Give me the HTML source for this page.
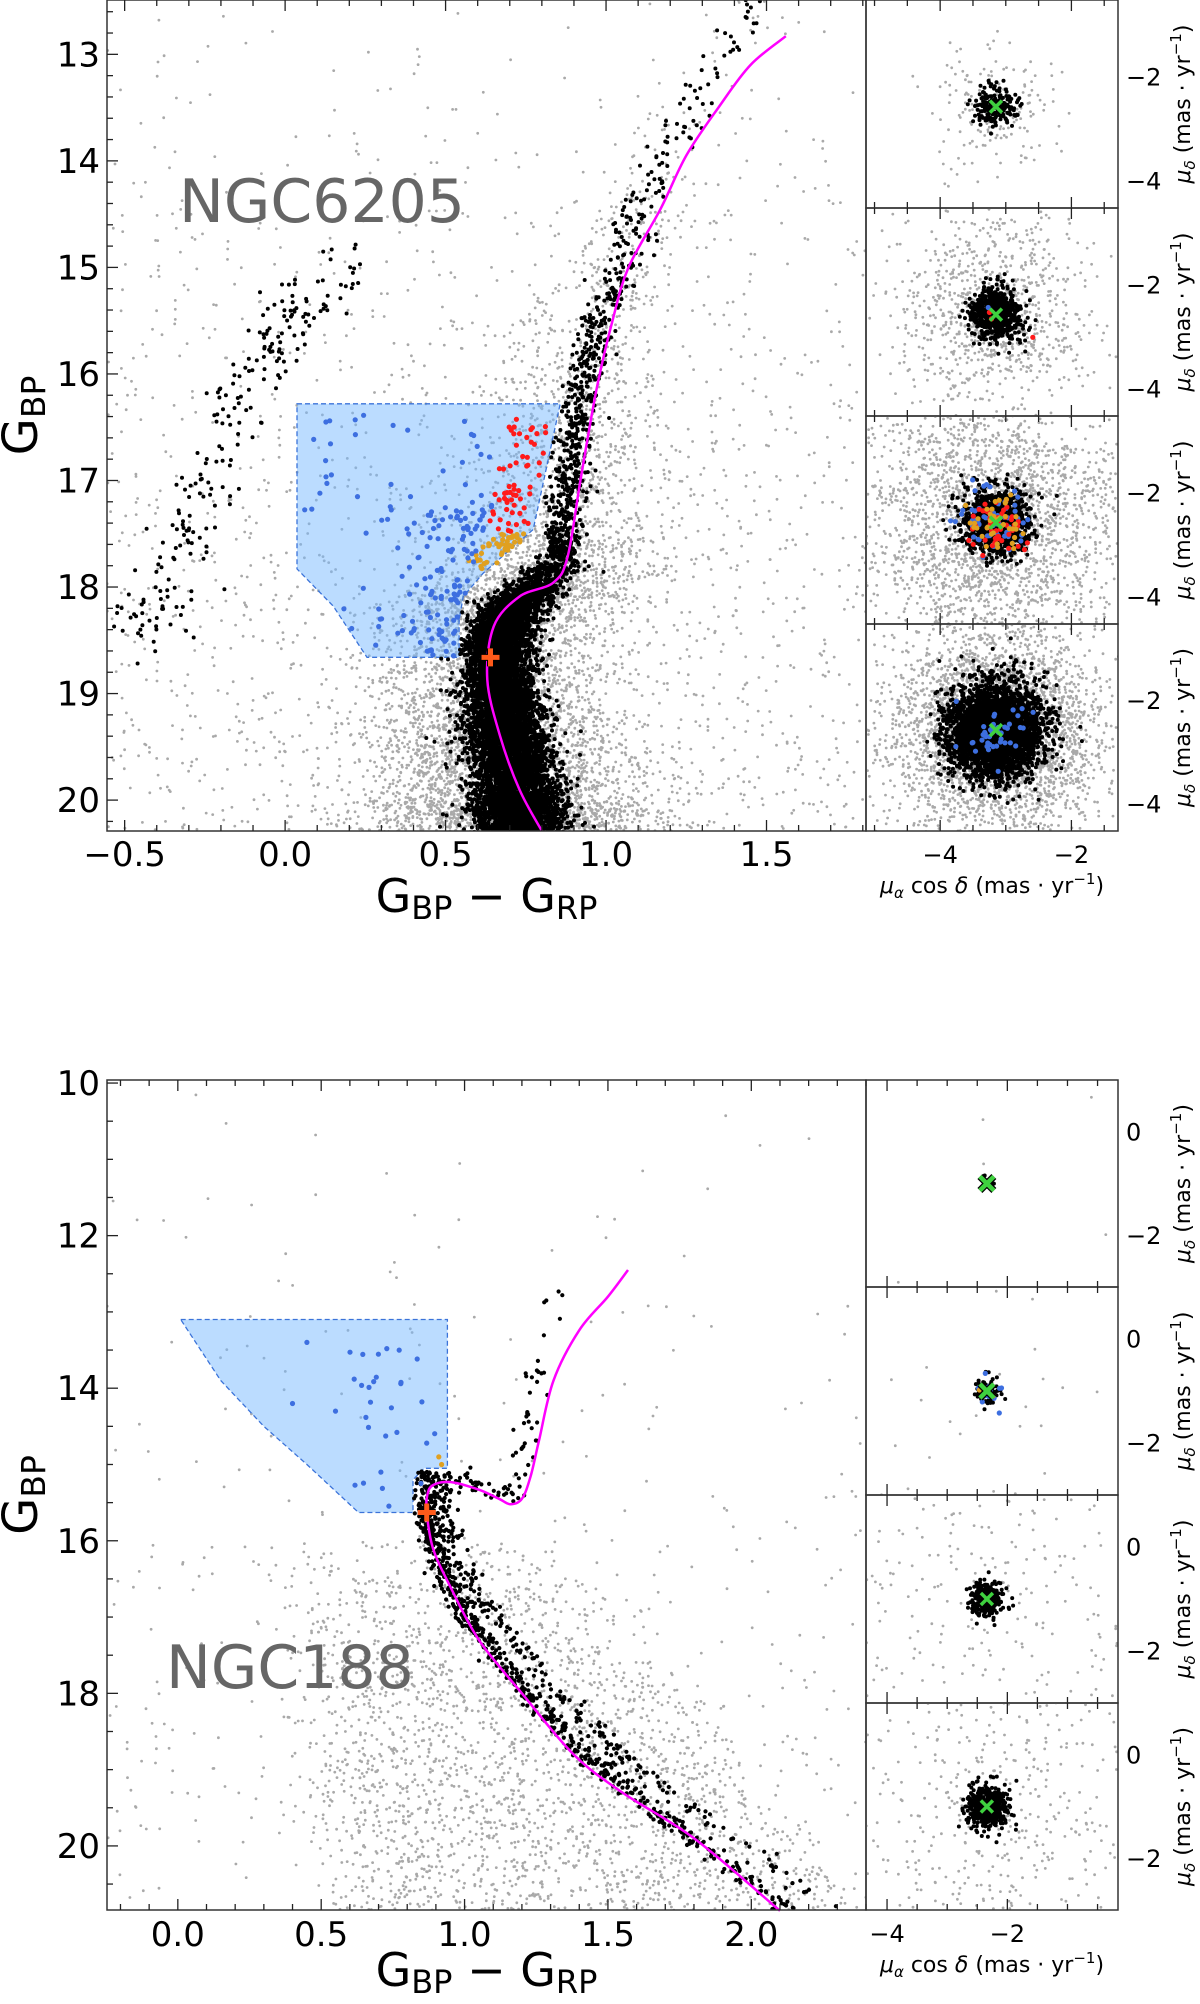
<!DOCTYPE html>
<html><head><meta charset="utf-8"><style>
html,body{margin:0;padding:0;background:#fff;overflow:hidden;width:1200px;height:2004px;}
svg{display:block;font-family:"DejaVu Sans","Liberation Sans",sans-serif;}
</style></head><body>
<svg id="fig" width="1200" height="2004" viewBox="0 0 1200 2004" xmlns="http://www.w3.org/2000/svg">
<defs>
<clipPath id="c1"><rect x="107" y="0" width="759" height="831"/></clipPath>
<clipPath id="c2"><rect x="107" y="1080" width="759" height="830"/></clipPath>
</defs>
<g id="root"></g>
</svg>
<script>
// ---------- data ----------
const iso1Color=[1.56,1.45,1.35,1.25,1.17,1.07,1.02,0.97,0.92,0.88,0.835,0.73,0.65,0.63,0.67,0.73,0.80];
const iso1Mag  =[12.83,13.1,13.5,13.95,14.45,15.0,15.5,16.15,17.0,17.72,17.96,18.09,18.37,18.87,19.4,19.9,20.29];
const ridge1Mag  =[12.5,13.0,13.5,14.0,14.5,15.0,15.5,16.0,16.5,17.0,17.5,17.8,18.0,18.2,18.5,19.0,19.5,20.0,20.3];
const ridge1Color=[1.47,1.37,1.27,1.17,1.10,1.05,0.98,0.93,0.90,0.88,0.865,0.85,0.78,0.70,0.665,0.67,0.70,0.72,0.74];
const ridge1Wt   =[0.7,0.7,1,1.5,2,3,4,5,6,6,7,12,25,50,70,80,80,60];
const hb1Color=[-0.48,-0.42,-0.35,-0.30,-0.27,-0.22,-0.19,-0.15,-0.10,-0.03,0.05,0.15,0.22];
const hb1Mag  =[18.5,18.2,18.0,17.6,17.3,17.0,16.6,16.3,16.0,15.6,15.35,15.15,15.0];
const poly1Color=[0.037,0.857,0.773,0.617,0.555,0.542,0.542,0.255,0.15,0.037];
const poly1Mag  =[16.28,16.28,17.46,17.87,18.09,18.31,18.66,18.66,18.18,17.83];
const to1=[0.64,18.66];
const iso2Color=[2.10,1.80,1.55,1.38,1.20,1.05,0.95,0.89,0.868,0.87,0.89,0.95,1.05,1.12,1.16,1.20,1.23,1.26,1.31,1.40,1.50,1.57];
const iso2Mag  =[20.85,19.9,19.3,18.8,18.0,17.3,16.6,16.1,15.63,15.4,15.27,15.23,15.33,15.45,15.52,15.45,15.16,14.68,13.9,13.24,12.8,12.45];
const ridge2Mag  =[15.1,15.6,16.0,16.5,17.0,17.5,18.0,18.5,19.0,19.5,20.0,20.5,20.85];
const ridge2Color=[0.87,0.87,0.89,0.94,1.01,1.11,1.22,1.34,1.48,1.65,1.83,2.01,2.14];
const ridge2Wt   =[8,7,6,6,5,5,5,5,4,4,3,2];
const rgb2Color=[0.92,1.00,1.08,1.14,1.18,1.20,1.21,1.24,1.28,1.33];
const rgb2Mag  =[15.15,15.2,15.3,15.4,15.35,15.0,14.6,14.0,13.4,12.7];
const poly2Color=[0.01,0.94,0.94,0.86,0.82,0.82,0.63,0.45,0.30,0.15,0.01];
const poly2Mag  =[13.1,13.1,15.05,15.05,15.2,15.63,15.63,15.0,14.5,13.9,13.1];
const to2=[0.868,15.63];
const pm1Center=[-3.15,-2.57];
const pm1BlackN=[200,700,1000,3500];
const pm1BlackSd=[0.2,0.24,0.32,0.44];
const pm1GreyN=[180,900,2500,3500];
const pm1GreySd=[0.55,0.95,1.3,1.0];
const pm2Center=[-2.34,-1.0];
const pm2BlackN=[5,80,250,500];
const pm2BlackSd=[0.08,0.12,0.16,0.2];
const pm2GreyN=[6,30,300,600];
const pm2GreySd=[2,1.5,1.6,1.8];

// ---------- helpers ----------
const NS='http://www.w3.org/2000/svg';
const root=document.getElementById('root');
let s=987654321;
function rnd(){s|=0;s=s+0x6D2B79F5|0;let t=Math.imul(s^s>>>15,1|s);t=t+Math.imul(t^t>>>7,61|t)^t;return((t^t>>>14)>>>0)/4294967296;}
function gau(){let u=rnd()||1e-9,v=rnd();return Math.sqrt(-2*Math.log(u))*Math.cos(2*Math.PI*v);}
function el(tag,attrs,parent){const e=document.createElementNS(NS,tag);for(const k in attrs)e.setAttribute(k,attrs[k]);(parent||root).appendChild(e);return e;}
function lin(d0,d1,r0,r1){return v=>r0+(v-d0)/(d1-d0)*(r1-r0);}

function dots(g,xs,ys,sx,sy,r,fill,name,box){
  for(let i=0;i<xs.length;i++){
    const X=sx(xs[i]),Y=sy(ys[i]);
    if(box&&(X<box[0]-1||X>box[2]+1||Y<box[1]-1||Y>box[3]+1)) continue;
    const c=document.createElementNS(NS,'circle');
    c.setAttribute('cx',X.toFixed(1));c.setAttribute('cy',Y.toFixed(1));
    c.setAttribute('r',r);c.setAttribute('fill',fill);
    
    
    g.appendChild(c);
  }
}
function sampleRidge(C,M,W,n,sc,sm,offFn){
  const xs=[],ys=[];let tot=W.reduce((a,b)=>a+b,0);
  for(let k=0;k<n;k++){
    let r=rnd()*tot,i=0;while(i<W.length-1&&r>W[i]){r-=W[i];i++;}
    const t=rnd();
    const c=C[i]+(C[i+1]-C[i])*t, m=M[i]+(M[i+1]-M[i])*t;
    let sig=typeof sc==='function'?sc(m):sc;
    xs.push(c+gau()*sig+(offFn?offFn(m):0)); ys.push(m+gau()*sm);
  }
  return [xs,ys];
}
function ticksAxis(g,x0,y0,w,h,sx,sy,xMaj,xMin,yMaj,yMin,xr,yr,sides){
  const st={stroke:'#222','stroke-width':1.3};
  for(let v=Math.ceil(xr[0]/xMin-1e-6)*xMin;v<=xr[1]+1e-9;v+=xMin){
    const isM=Math.abs(v/xMaj-Math.round(v/xMaj))<1e-6;const L=isM?11:6;const X=sx(v);
    if(sides.b) el('line',Object.assign({x1:X,x2:X,y1:y0+h,y2:y0+h-L,},st),g);
    if(sides.t) el('line',Object.assign({x1:X,x2:X,y1:y0,y2:y0+L,},st),g);
  }
  for(let v=Math.ceil(yr[0]/yMin-1e-6)*yMin;v<=yr[1]+1e-9;v+=yMin){
    const isM=Math.abs(v/yMaj-Math.round(v/yMaj))<1e-6;const L=isM?11:6;const Y=sy(v);
    if(sides.l) el('line',Object.assign({x1:x0,x2:x0+L,y1:Y,y2:Y,},st),g);
    if(sides.r) el('line',Object.assign({x1:x0+w,x2:x0+w-L,y1:Y,y2:Y,},st),g);
  }
}
function txt(g,x,y,str,size,anchor,name,extra){
  const t=el('text',Object.assign({x:x,y:y,'font-size':size,'text-anchor':anchor||'middle',fill:'#000',},extra||{}),g);
  t.textContent=str;return t;
}
function fmt(v,d){const s=Math.abs(v).toFixed(d);return (v<-1e-9?'\u2212':'')+s;}
function cross(g,x,y,col,size,sw,outline){
  const d=`M${x-size},${y-size}L${x+size},${y+size}M${x-size},${y+size}L${x+size},${y-size}`;
  if(outline) el('path',{d:d,stroke:'#000','stroke-width':sw+2.5,fill:'none',},g);
  el('path',{d:d,stroke:col,'stroke-width':sw,fill:'none',},g);
}
function plus(g,x,y){
  const d=`M${x-9},${y}L${x+9},${y}M${x},${y-9}L${x},${y+9}`;
  el('path',{d:d,stroke:'#000','stroke-width':7,fill:'none',},g);
  el('path',{d:d,stroke:'#ff5a1a','stroke-width':5,fill:'none',},g);
}
function polyPath(C,M,sx,sy){return C.map((c,i)=>(i?'L':'M')+sx(c).toFixed(1)+','+sy(M[i]).toFixed(1)).join('')+'Z';}
function smoothPath(C,M,sx,sy){
  const P=C.map((c,i)=>[sx(c),sy(M[i])]);
  let d='M'+P[0][0].toFixed(1)+','+P[0][1].toFixed(1);
  for(let i=0;i<P.length-1;i++){
    const p0=P[Math.max(0,i-1)],p1=P[i],p2=P[i+1],p3=P[Math.min(P.length-1,i+2)];
    const c1=[p1[0]+(p2[0]-p0[0])/6,p1[1]+(p2[1]-p0[1])/6],c2=[p2[0]-(p3[0]-p1[0])/6,p2[1]-(p3[1]-p1[1])/6];
    d+=`C${c1[0].toFixed(1)},${c1[1].toFixed(1)} ${c2[0].toFixed(1)},${c2[1].toFixed(1)} ${p2[0].toFixed(1)},${p2[1].toFixed(1)}`;
  }
  return d;
}
function inPoly(c,m,C,M){let ins=false;for(let i=0,j=C.length-1;i<C.length;j=i++){if(((M[i]>m)!=(M[j]>m))&&(c<(C[j]-C[i])*(m-M[i])/(M[j]-M[i])+C[i]))ins=!ins;}return ins;}

// ---------- PM panel ----------
function pmPanel(parent,x0,y0,w,h,xr,yr,center,bn,bsd,gn,gsd,yTicks,showX,extra,idx,bigX){
  const g=el('g',{},parent);
  const cid='pmclip'+x0+'_'+y0;
  const cp=el('clipPath',{id:cid},g);el('rect',{x:x0,y:y0,width:w,height:h},cp);
  const sx=lin(xr[0],xr[1],x0,x0+w), sy=lin(yr[1],yr[0],y0,y0+h);
  const box=[x0,y0,x0+w,y0+h];
  const kx=(h/(yr[1]-yr[0]))/(w/(xr[1]-xr[0]));
  const pg=el('g',{'clip-path':`url(#${cid})`,},g);
  const gx=[],gy=[];for(let i=0;i<gn;i++){gx.push(center[0]+gau()*gsd*kx);gy.push(center[1]+gau()*gsd);}
  dots(pg,gx,gy,sx,sy,1.4,'#a9a9a9','field-star',box);
  const bx=[],by=[];for(let i=0;i<bn;i++){bx.push(center[0]+gau()*bsd*kx);by.push(center[1]+gau()*bsd);}
  dots(pg,bx,by,sx,sy,2,'#000','member-star',box);
  if(extra){extra.forEach(e=>{const ex=[],ey=[];for(let i=0;i<e.n;i++){ex.push(center[0]+gau()*e.sd*kx);ey.push(center[1]+gau()*e.sd);}dots(pg,ex,ey,sx,sy,2.6,e.col,e.name,box);});}
  cross(g,sx(center[0]),sy(center[1]),'#3fd13f',bigX?7:6,bigX?4.5:3.5,bigX);
  el('rect',{x:x0,y:y0,width:w,height:h,fill:'none',stroke:'#333','stroke-width':1.5,},g);
  ticksAxis(g,x0,y0,w,h,sx,sy,2,0.5,2,0.5,xr,[yr[1],yr[0]],{b:1,t:1,l:1,r:1});
  yTicks.forEach(v=>{txt(g,x0+w+8,sy(v)+8.5,fmt(v,0),24,'start','pm-y-tick-label');});
  const lab=txt(g,0,0,'',22,'middle','pm-y-axis-title',{transform:`translate(${x0+w+72},${y0+h/2}) rotate(-90)`});
  lab.innerHTML='<tspan font-style="italic">μ</tspan><tspan font-size="15" dy="5" font-style="italic">δ</tspan><tspan dy="-5"> (mas · yr</tspan><tspan font-size="15" dy="-9">−1</tspan><tspan dy="9">)</tspan>';
  if(showX){
    [-4,-2].forEach(v=>txt(g,sx(v),y0+h+32,fmt(v,0),24,'middle','pm-x-tick-label'));
    const xl=txt(g,x0+w/2,y0+h+62,'',22,'middle','pm-x-axis-title');
    xl.innerHTML='<tspan font-style="italic">μ</tspan><tspan font-size="15" dy="5" font-style="italic">α</tspan><tspan dy="-5"> cos </tspan><tspan font-style="italic">δ</tspan><tspan> (mas · yr</tspan><tspan font-size="15" dy="-9">−1</tspan><tspan dy="9">)</tspan>';
  }
}

// ---------- top CMD (NGC6205) ----------
(function(){
  const x0=107,y0=0,w=759,h=831,xr=[-0.555,1.81],mr=[12.49,20.29];
  const box=[x0,y0,x0+w,y0+h];
  const g=el('g',{});
  const sx=lin(xr[0],xr[1],x0,x0+w), sy=lin(mr[0],mr[1],y0,y0+h);
  const pg=el('g',{'clip-path':'url(#c1)',},g);
  let [gx,gy]=sampleRidge(ridge1Color,ridge1Mag,[0.3,0.3,0.5,1,2,3,4,6,7,8,9,10,12,16,22,28,34,38],6500,m=>0.09+0.02*(m-14),0.05,m=>-0.02);
  const ux=[],uy=[];for(let i=0;i<1600;i++){const m=mr[0]+(mr[1]-mr[0])*Math.pow(rnd(),0.55);ux.push(xr[0]+(xr[1]-xr[0])*rnd());uy.push(m);}
  dots(pg,gx.concat(ux),gy.concat(uy),sx,sy,1.4,'#a9a9a9','field-star',box);
  el('path',{d:polyPath(poly1Color,poly1Mag,sx,sy),fill:'rgba(120,185,255,0.5)',stroke:'#3b73d9','stroke-width':1.3,'stroke-dasharray':'5,3',},g);
  const pg2=el('g',{'clip-path':'url(#c1)',},g);
  let [bx,by]=sampleRidge(ridge1Color,ridge1Mag,ridge1Wt,9000,m=>m<15?0.04:(m<17.8?0.028:0.045+0.012*(m-18)),0.04);
  const keepX=[],keepY=[];for(let i=0;i<bx.length;i++){if(!inPoly(bx[i],by[i],poly1Color,poly1Mag)){keepX.push(bx[i]);keepY.push(by[i]);}}
  let [hx,hy]=sampleRidge(hb1Color,hb1Mag,[3,2,2,2,2,2,2,2,2,2,2,2],230,0.05,0.15);
  dots(pg2,keepX.concat(hx),keepY.concat(hy),sx,sy,2,'#000','member-star',box);
  const rx=[],ry=[];for(let i=0;i<60;i++){const m=16.4+rnd()*1.1;const edge=0.86-(m-16.28)*0.07;rx.push(edge-0.02-rnd()*0.13);ry.push(m);}
  dots(pg2,rx,ry,sx,sy,2.6,'#ff1a1a','red-star',box);
  const ox=[],oy=[];for(let i=0;i<45;i++){const m=17.5+rnd()*0.33;ox.push(0.76-(m-17.5)*0.35-rnd()*0.1);oy.push(m);}
  dots(pg2,ox,oy,sx,sy,2.6,'#e0a020','orange-star',box);
  const blx=[],bly=[];for(let i=0;i<130;i++){const m=17.2+rnd()*1.45;const edge=m<18.1?0.56+(18.1-m)*0.1:0.54;blx.push(edge-Math.abs(gau())*0.12);bly.push(m);}
  for(let i=0;i<40;i++){blx.push(0.06+rnd()*0.6);bly.push(16.35+rnd()*1.4);}
  dots(pg2,blx,bly,sx,sy,2.6,'#3d6fe0','blue-star',box);
  el('path',{d:smoothPath(iso1Color,iso1Mag,sx,sy),fill:'none',stroke:'#ff00ff','stroke-width':2.5,},g);
  plus(g,sx(to1[0]),sy(to1[1]));
  el('rect',{x:x0,y:y0,width:w,height:h,fill:'none',stroke:'#333','stroke-width':1.5,},g);
  ticksAxis(g,x0,y0,w,h,sx,sy,0.5,0.1,1,0.2,xr,mr,{b:1,t:1,l:1,r:0});
  [13,14,15,16,17,18,19,20].forEach(v=>txt(g,x0-7,sy(v)+12,String(v),34,'end','y-tick-label'));
  [-0.5,0,0.5,1,1.5].forEach(v=>txt(g,sx(v),866,fmt(v,1),34,'middle','x-tick-label'));
  const yl=txt(g,0,0,'',48,'middle','y-axis-title',{transform:`translate(37,${y0+h/2}) rotate(-90)`});
  yl.innerHTML='G<tspan font-size="33" dy="8">BP</tspan>';
  const xl=txt(g,x0+w/2,912,'',46,'middle','x-axis-title');
  xl.innerHTML='G<tspan font-size="32" dy="7">BP</tspan><tspan dy="-7"> − G</tspan><tspan font-size="32" dy="7">RP</tspan>';
  txt(g,179,222,'NGC6205',60,'start','cluster-name',{fill:'#666'});
  const hs=[0,208,416,624,831];
  for(let i=0;i<4;i++){
    const ex=i===1?[{n:3,sd:0.25,col:'#ff1a1a',name:'red-star'},{n:1,sd:0.25,col:'#3d6fe0',name:'blue-star'}]:i===2?[{n:60,sd:0.3,col:'#3d6fe0',name:'blue-star'},{n:50,sd:0.26,col:'#ff1a1a',name:'red-star'},{n:40,sd:0.3,col:'#e0a020',name:'orange-star'}]:i===3?[{n:45,sd:0.28,col:'#3d6fe0',name:'blue-star'}]:null;
    pmPanel(g,866,hs[i],252,hs[i+1]-hs[i],[-5.13,-1.29],i===0?[-4.52,-0.52]:[-4.52,-0.52],pm1Center,pm1BlackN[i],pm1BlackSd[i],pm1GreyN[i],pm1GreySd[i],[-2,-4],i===3,ex,'top-'+(i+1),false);
  }
})();

// ---------- bottom CMD (NGC188) ----------
(function(){
  const x0=107,y0=1080,w=759,h=830,xr=[-0.247,2.40],mr=[9.96,20.84];
  const box=[x0,y0,x0+w,y0+h];
  const g=el('g',{});
  const sx=lin(xr[0],xr[1],x0,x0+w), sy=lin(mr[0],mr[1],y0,y0+h);
  const pg=el('g',{'clip-path':'url(#c2)',},g);
  const gx=[],gy=[];
  for(let i=0;i<2400;i++){const m=16.0+4.9*Math.pow(rnd(),0.7);const lo=0.4+(m-16)*0.04,hi=1.3+(m-16)*0.22;gx.push(lo+(hi-lo)*rnd()+gau()*0.08);gy.push(m);}
  for(let i=0;i<450;i++){gx.push(xr[0]+(xr[1]-xr[0])*rnd());gy.push(mr[0]+(mr[1]-mr[0])*Math.pow(rnd(),0.5));}
  dots(pg,gx,gy,sx,sy,1.4,'#a9a9a9','field-star',box);
  el('path',{d:polyPath(poly2Color,poly2Mag,sx,sy),fill:'rgba(120,185,255,0.5)',stroke:'#3b73d9','stroke-width':1.3,'stroke-dasharray':'5,3',},g);
  const pg2=el('g',{'clip-path':'url(#c2)',},g);
  let [bx,by]=sampleRidge(ridge2Color,ridge2Mag,ridge2Wt,950,0.022,0.03,m=>rnd()<0.28?0.07+0.02*(m-16):0);
  let [rx,ry]=sampleRidge(rgb2Color,rgb2Mag,[4,4,4,3,3,3,3,3,3],90,0.025,0.06);
  dots(pg2,bx.concat(rx),by.concat(ry),sx,sy,2.1,'#000','member-star',box);
  const blx=[],bly=[];for(let i=0;i<28;i++){const m=13.4+rnd()*2.2;blx.push(0.6+rnd()*0.3);bly.push(m);}
  blx.push(0.4,0.45,0.55);bly.push(14.2,13.4,14.3);
  dots(pg2,blx,bly,sx,sy,2.6,'#3d6fe0','blue-star',box);
  dots(pg2,[0.91,0.92],[14.9,15.0],sx,sy,2.6,'#e0a020','orange-star',box);
  el('path',{d:smoothPath(iso2Color,iso2Mag,sx,sy),fill:'none',stroke:'#ff00ff','stroke-width':2.5,},g);
  plus(g,sx(to2[0]),sy(to2[1]));
  el('rect',{x:x0,y:y0,width:w,height:h,fill:'none',stroke:'#333','stroke-width':1.5,},g);
  ticksAxis(g,x0,y0,w,h,sx,sy,0.5,0.1,2,0.5,xr,mr,{b:1,t:1,l:1,r:0});
  [10,12,14,16,18,20].forEach(v=>txt(g,x0-7,sy(v)+12,String(v),34,'end','y-tick-label'));
  [0,0.5,1,1.5,2].forEach(v=>txt(g,sx(v),1946,fmt(v,1),34,'middle','x-tick-label'));
  const yl=txt(g,0,0,'',48,'middle','y-axis-title',{transform:`translate(37,${y0+h/2}) rotate(-90)`});
  yl.innerHTML='G<tspan font-size="33" dy="8">BP</tspan>';
  const xl=txt(g,x0+w/2,1986,'',46,'middle','x-axis-title');
  xl.innerHTML='G<tspan font-size="32" dy="7">BP</tspan><tspan dy="-7"> − G</tspan><tspan font-size="32" dy="7">RP</tspan>';
  txt(g,166,1688,'NGC188',60,'start','cluster-name',{fill:'#666'});
  const hs=[1080,1287,1495,1703,1910];
  for(let i=0;i<4;i++){
    const ex=i===1?[{n:14,sd:0.13,col:'#3d6fe0',name:'blue-star'},{n:3,sd:0.13,col:'#e0a020',name:'orange-star'}]:null;
    pmPanel(g,866,hs[i],252,hs[i+1]-hs[i],[-4.35,-0.16],[-3.0,1.0],pm2Center,pm2BlackN[i],pm2BlackSd[i],pm2GreyN[i],pm2GreySd[i],[0,-2],i===3,ex,'bottom-'+(i+1),i<2);
  }
})();
</script>
</body></html>
